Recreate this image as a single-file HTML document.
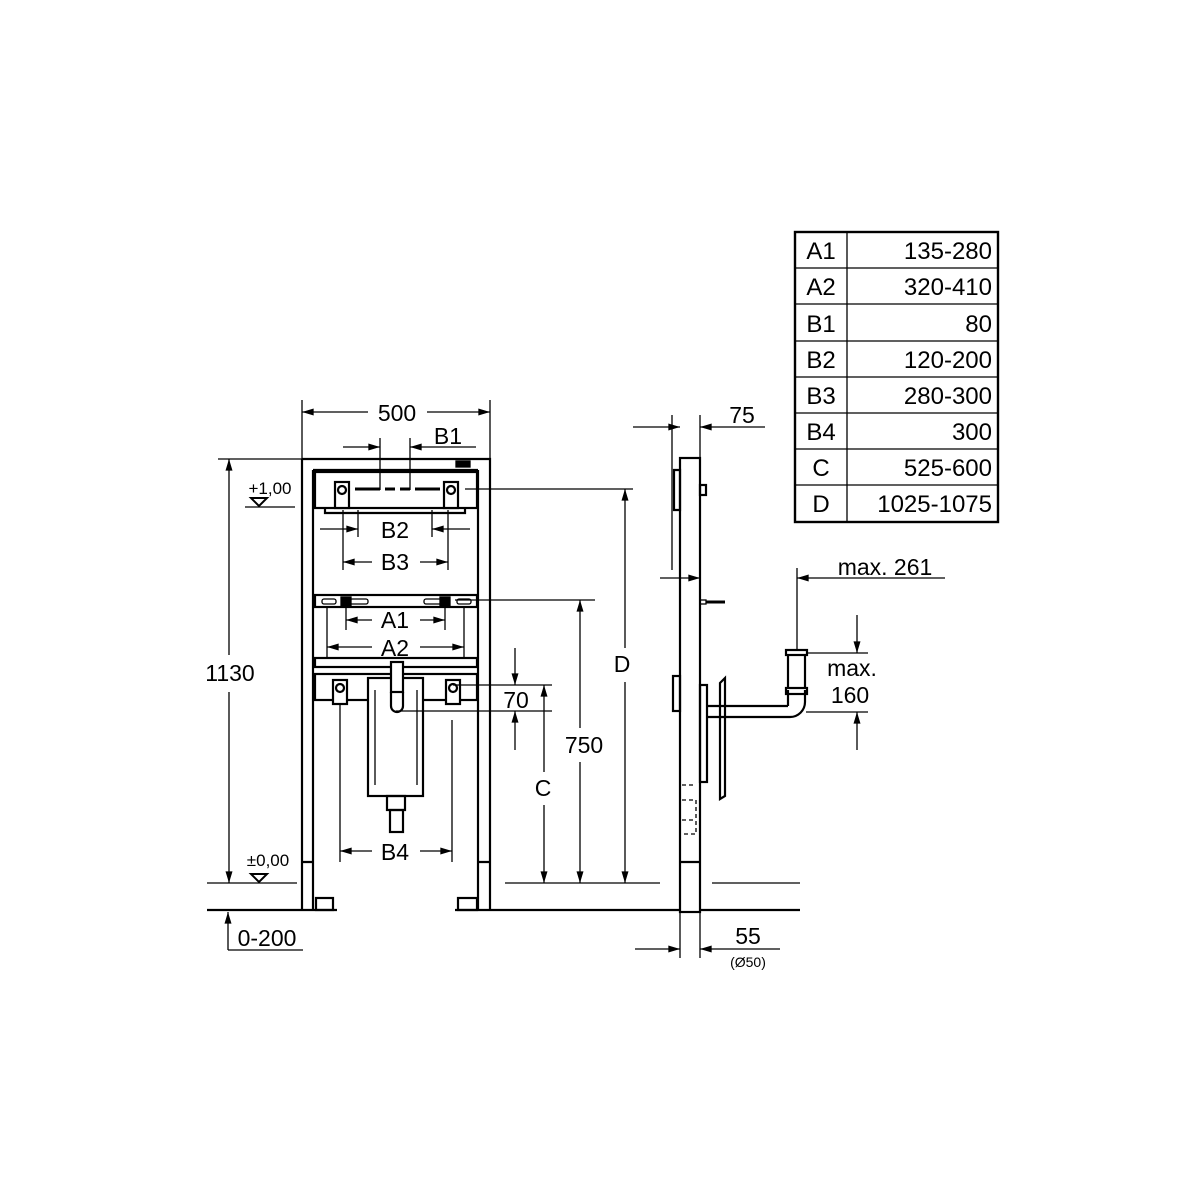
<!DOCTYPE html>
<html><head><meta charset="utf-8"><style>
html,body{margin:0;padding:0;background:#fff}
svg{display:block}
text{font-family:"Liberation Sans",sans-serif;fill:#000}
</style></head><body>
<svg width="1200" height="1200" viewBox="0 0 1200 1200" xmlns="http://www.w3.org/2000/svg">
<defs>
<marker id="a" viewBox="0 0 10 6" refX="10" refY="3" markerWidth="18" markerHeight="7" markerUnits="userSpaceOnUse" orient="auto"><path d="M0,0L10,3L0,6z" fill="#000"/></marker>
</defs>
<g stroke="#000" fill="none" stroke-width="1.3">
<!-- table -->
<rect x="795" y="232" width="203" height="290" stroke-width="2.4"/>
<line x1="847" y1="232" x2="847" y2="522"/>
<line x1="795" y1="268" x2="998" y2="268"/><line x1="795" y1="304" x2="998" y2="304"/>
<line x1="795" y1="341" x2="998" y2="341"/><line x1="795" y1="377" x2="998" y2="377"/>
<line x1="795" y1="413" x2="998" y2="413"/><line x1="795" y1="449" x2="998" y2="449"/>
<line x1="795" y1="485" x2="998" y2="485"/>

<!-- front frame -->
<g stroke-width="2.2">
<path d="M302,459 H490 V862 M302,459 V862"/>
<path d="M313,470 H478 M313,470 V862 M478,470 V862"/>
<path d="M302,862 V910 M313,862 V910 M478,862 V910 M490,862 V910"/>
<path d="M302,862 H313 M478,862 H490"/>
<rect x="316" y="898" width="17" height="12"/>
<rect x="458" y="898" width="19" height="12"/>
<rect x="315" y="472" width="162" height="36"/>
<path d="M325,508 v5 h140 v-5"/>
<rect x="315" y="595" width="162" height="12"/>
<rect x="315" y="658" width="162" height="9"/>
<rect x="315" y="674" width="162" height="26"/>
<rect x="368" y="678" width="55" height="118" fill="#fff"/>
<rect x="387" y="796" width="18" height="14"/>
<rect x="390" y="810" width="13" height="22"/>
<rect x="391" y="662" width="12" height="30" fill="#fff"/>
<path d="M391,692 v14 a6,6 0 0 0 12,0 v-14"/>
</g>
<line x1="375" y1="690" x2="375" y2="785"/><line x1="417" y1="690" x2="417" y2="785"/>
<g stroke-width="2.2">
<rect x="335" y="482" width="14" height="26" fill="#fff"/><circle cx="342" cy="490" r="4"/>
<rect x="444" y="482" width="14" height="26" fill="#fff"/><circle cx="451" cy="490" r="4"/>
<rect x="333" y="680" width="14" height="24" fill="#fff"/><circle cx="340" cy="688" r="4"/>
<rect x="446" y="680" width="14" height="24" fill="#fff"/><circle cx="453" cy="688" r="4"/>
</g>
<path d="M355,489 h25 M385,489 h10 M400,489 h10 M415,489 h25" stroke-width="3"/>
<rect x="322" y="599" width="14" height="5" rx="2"/><rect x="350" y="599" width="18" height="5" rx="2"/>
<rect x="424" y="599" width="18" height="5" rx="2"/><rect x="457" y="599" width="14" height="5" rx="2"/>
<rect x="341" y="597" width="10" height="9" fill="#000"/><rect x="440" y="597" width="10" height="9" fill="#000"/>
<rect x="456" y="461" width="14" height="6" fill="#000"/>

<!-- front dims -->
<line x1="302" y1="400" x2="302" y2="459"/><line x1="490" y1="400" x2="490" y2="459"/>
<line x1="368" y1="412" x2="302" y2="412" marker-end="url(#a)"/>
<line x1="427" y1="412" x2="490" y2="412" marker-end="url(#a)"/>
<line x1="380" y1="438" x2="380" y2="490"/><line x1="410" y1="438" x2="410" y2="490"/>
<line x1="343" y1="447" x2="380" y2="447" marker-end="url(#a)"/>
<line x1="476" y1="447" x2="410" y2="447" marker-end="url(#a)"/>
<line x1="218" y1="459" x2="310" y2="459"/>
<line x1="229" y1="655" x2="229" y2="459" marker-end="url(#a)"/>
<line x1="229" y1="692" x2="229" y2="883" marker-end="url(#a)"/>
<line x1="245" y1="507" x2="295" y2="507"/>
<path d="M251,498 h16 l-8,8z" stroke-width="2"/>
<line x1="207" y1="883" x2="297" y2="883"/>
<path d="M251,874 h16 l-8,8z" stroke-width="2"/>
<line x1="207" y1="910" x2="337" y2="910" stroke-width="2.2"/>
<line x1="455" y1="910" x2="800" y2="910" stroke-width="2.2"/>
<line x1="228" y1="950" x2="228" y2="912" marker-end="url(#a)"/>
<line x1="228" y1="950" x2="303" y2="950"/>
<line x1="343" y1="510" x2="343" y2="570"/><line x1="448" y1="510" x2="448" y2="570"/>
<line x1="358" y1="510" x2="358" y2="537"/><line x1="432" y1="510" x2="432" y2="537"/>
<line x1="320" y1="529" x2="358" y2="529" marker-end="url(#a)"/>
<line x1="470" y1="529" x2="432" y2="529" marker-end="url(#a)"/>
<line x1="372" y1="562" x2="343" y2="562" marker-end="url(#a)"/>
<line x1="420" y1="562" x2="448" y2="562" marker-end="url(#a)"/>
<line x1="346" y1="605" x2="346" y2="630"/><line x1="445" y1="605" x2="445" y2="630"/>
<line x1="327" y1="607" x2="327" y2="657"/><line x1="464" y1="607" x2="464" y2="657"/>
<line x1="372" y1="620" x2="346" y2="620" marker-end="url(#a)"/>
<line x1="420" y1="620" x2="445" y2="620" marker-end="url(#a)"/>
<line x1="372" y1="647" x2="327" y2="647" marker-end="url(#a)"/>
<line x1="420" y1="647" x2="464" y2="647" marker-end="url(#a)"/>
<line x1="340" y1="704" x2="340" y2="862"/><line x1="452" y1="720" x2="452" y2="862"/>
<line x1="372" y1="851" x2="340" y2="851" marker-end="url(#a)"/>
<line x1="420" y1="851" x2="452" y2="851" marker-end="url(#a)"/>
<line x1="465" y1="489" x2="633" y2="489"/>
<line x1="455" y1="600" x2="595" y2="600"/>
<line x1="453" y1="685" x2="552" y2="685"/>
<line x1="396" y1="711" x2="552" y2="711"/>
<line x1="515" y1="648" x2="515" y2="685" marker-end="url(#a)"/>
<line x1="515" y1="750" x2="515" y2="711" marker-end="url(#a)"/>
<line x1="544" y1="772" x2="544" y2="685" marker-end="url(#a)"/>
<line x1="544" y1="805" x2="544" y2="883" marker-end="url(#a)"/>
<line x1="580" y1="728" x2="580" y2="600" marker-end="url(#a)"/>
<line x1="580" y1="762" x2="580" y2="883" marker-end="url(#a)"/>
<line x1="625" y1="648" x2="625" y2="489" marker-end="url(#a)"/>
<line x1="625" y1="682" x2="625" y2="883" marker-end="url(#a)"/>
<line x1="505" y1="883" x2="660" y2="883"/>
<line x1="712" y1="883" x2="800" y2="883"/>

<!-- side view -->
<g stroke-width="2.2">
<rect x="680" y="458" width="20" height="454" fill="#fff"/>
<line x1="680" y1="862" x2="700" y2="862"/>
<path d="M674,470 h6 v40 h-6z"/>
<rect x="700" y="485" width="6" height="10"/>
<rect x="673" y="676" width="7" height="35"/>
<rect x="700" y="685" width="7" height="97"/>
<path d="M720,683 l5,-5 v118 l-5,3z"/>
<path d="M707,706 H788 M707,717 H790 a15,15 0 0 0 15,-15 V690 M788,706 V690"/>
<rect x="786" y="650" width="21" height="5"/>
<rect x="786" y="688" width="21" height="6"/>
<line x1="788" y1="655" x2="788" y2="688"/><line x1="805" y1="655" x2="805" y2="688"/>
</g>
<rect x="700" y="600" width="6" height="4"/><line x1="706" y1="602" x2="725" y2="602" stroke-width="3"/>
<path d="M682,785 h14 M682,800 h14 v34 h-14 M682,820 h14" stroke-dasharray="4,3"/>
<line x1="672" y1="415" x2="672" y2="570"/><line x1="700" y1="415" x2="700" y2="458"/>
<line x1="633" y1="427" x2="680" y2="427" marker-end="url(#a)"/>
<line x1="765" y1="427" x2="700" y2="427" marker-end="url(#a)"/>
<line x1="660" y1="578" x2="700" y2="578" marker-end="url(#a)"/>
<line x1="797" y1="568" x2="797" y2="650"/>
<line x1="945" y1="578" x2="797" y2="578" marker-end="url(#a)"/>
<line x1="806" y1="653" x2="868" y2="653"/>
<line x1="806" y1="712" x2="868" y2="712"/>
<line x1="857" y1="615" x2="857" y2="653" marker-end="url(#a)"/>
<line x1="857" y1="750" x2="857" y2="712" marker-end="url(#a)"/>
<line x1="680" y1="912" x2="680" y2="958"/><line x1="700" y1="912" x2="700" y2="958"/>
<line x1="635" y1="949" x2="680" y2="949" marker-end="url(#a)"/>
<line x1="780" y1="949" x2="700" y2="949" marker-end="url(#a)"/>
</g>
<g font-size="24" text-anchor="middle">
<text x="821" y="259">A1</text><text x="821" y="295">A2</text><text x="821" y="332">B1</text><text x="821" y="368">B2</text>
<text x="821" y="404">B3</text><text x="821" y="440">B4</text><text x="821" y="476">C</text><text x="821" y="512">D</text>
</g>
<g font-size="24" text-anchor="end">
<text x="992" y="259">135-280</text><text x="992" y="295">320-410</text><text x="992" y="332">80</text><text x="992" y="368">120-200</text>
<text x="992" y="404">280-300</text><text x="992" y="440">300</text><text x="992" y="476">525-600</text><text x="992" y="512">1025-1075</text>
</g>
<g font-size="23" text-anchor="middle">
<text x="397" y="421">500</text><text x="448" y="444">B1</text>
<text x="395" y="538">B2</text><text x="395" y="570">B3</text>
<text x="395" y="628">A1</text><text x="395" y="656">A2</text>
<text x="395" y="860">B4</text>
<text x="230" y="681">1130</text>
<text x="516" y="708">70</text><text x="543" y="796">C</text><text x="584" y="753">750</text><text x="622" y="672">D</text>
<text x="742" y="423">75</text>
<text x="885" y="575">max. 261</text>
<text x="852" y="676">max.</text><text x="850" y="703">160</text>
<text x="748" y="944">55</text>
<text x="267" y="946">0-200</text>
</g>
<g font-size="17" text-anchor="middle">
<text x="270" y="494">+1,00</text><text x="268" y="866">±0,00</text>
<text x="748" y="967" font-size="14">(Ø50)</text>
</g>
</svg>
</body></html>
